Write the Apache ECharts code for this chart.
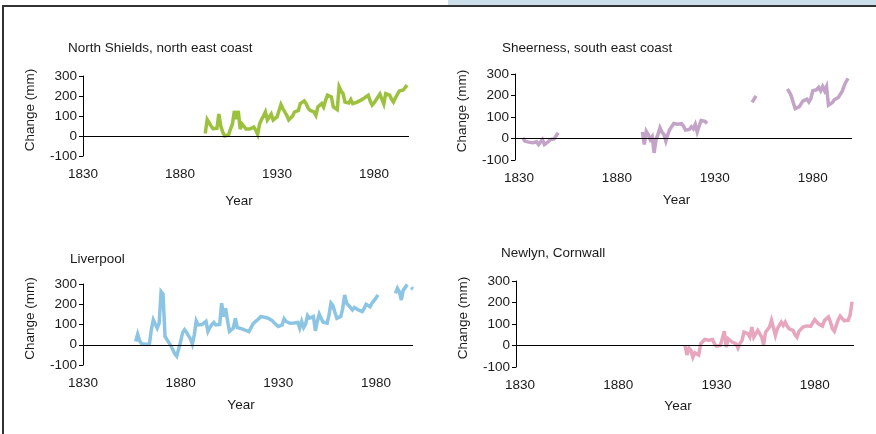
<!DOCTYPE html>
<html>
<head>
<meta charset="utf-8">
<script src="https://cdn.jsdelivr.net/npm/echarts@6/dist/echarts.min.js"></script>
<style>
html,body{margin:0;padding:0;background:#fff;}
#chart{width:876px;height:434px;}
</style>
</head>
<body>
<div id="chart"></div>
<script>
// ---- Data (change in mm, annual) ----
const yearTicks = [1830, 1880, 1930, 1980];
const yTicks = [-100, 0, 100, 200, 300];

const stationNames = ["North Shields, north east coast", "Sheerness, south east coast", "Liverpool", "Newlyn, Cornwall"];

// North Shields
const northShieldsStart = 1893;
const northShieldsValues = [12,82,78,50,37,40,38,110,50,20,0,2,5,35,60,125,85,125,35,60,70,35,38,35,40,45,30,8,60,82,100,120,80,95,110,80,87,95,103,157,137,120,103,80,87,100,120,122,128,162,165,175,162,140,128,125,120,103,145,150,162,145,178,204,200,195,145,135,132,246,225,212,170,168,165,182,162,165,168,170,178,185,190,195,204,175,154,165,175,195,210,220,160,212,208,204,185,170,190,200,225,228,230,240,254];

// Sheerness (gaps in record)
const sheernessStart1 = 1832;
const sheernessValues1 = [3,-12,-15,-17,-20,-20,-23,-15,-28,-22,-5,-28,-20,-15,-5,0,-2,5,27];
const sheernessStart2 = 1893;
const sheernessValues2 = [30,-28,34,19,-5,8,-67,-5,20,50,30,19,-12,19,42,50,70,77,66,70,69,58,39,40,42,55,45,66,30,58,84,89,80,70];
const sheernessStart3 = 1949;
const sheernessValues3 = [168,183,198];
const sheernessStart4 = 1967;
const sheernessValues4 = [230,217,198,167,139,133,147,139,175,178,183,170,186,222,222,227,238,222,242,222,242,155,160,167,180,186,191,198,220,245,265,280];

// Liverpool
const liverpoolStart1 = 1857;
const liverpoolValues1 = [16,52,20,5,-3,2,8,3,74,123,131,82,107,262,250,41,25,16,-5,-25,-45,-57,-20,16,60,74,62,45,30,3,49,118,98,107,100,95,115,66,85,100,110,98,98,100,205,139,180,120,66,70,82,131,85,82,80,79,72,69,65,62,102,112,120,128,139,138,136,132,130,128,118,107,98,90,85,98,128,115,107,106,105,107,108,110,82,115,85,102,144,131,135,139,69,115,151,130,111,108,107,148,205,193,160,131,134,140,180,246,205,195,190,172,184,178,172,168,164,180,200,205,188,205,213,230,246];
const liverpoolStart2 = 1990;
const liverpoolValues2 = [254,279,262,221,270,282,298];
const liverpoolStart3 = 1998;
const liverpoolValues3 = [282,275];

// Newlyn
const newlynStart = 1914;
const newlynValues = [0,-44,-12,-23,-55,-34,-40,-44,8,16,28,19,25,34,28,8,-3,2,0,8,66,-8,31,23,16,12,8,-12,10,23,62,70,55,39,86,39,39,70,75,40,3,62,70,86,117,122,47,78,70,109,94,109,90,78,78,70,50,39,66,59,86,88,91,86,90,97,120,112,100,97,91,117,125,133,109,78,66,94,120,137,128,115,112,117,141,203];

const colors = ["#9cc23d", "#c3a3c7", "#8cc4e3", "#e8a5be"];

function toData(segments) {
  const out = [];
  segments.forEach(function (seg, k) {
    const start = seg[0], vals = seg[1];
    vals.forEach(function (v, i) { out.push([start + i, v]); });
    if (k < segments.length - 1) out.push([start + vals.length, null]);
  });
  return out;
}

const seriesData = [
  toData([[northShieldsStart, northShieldsValues]]),
  toData([[sheernessStart1, sheernessValues1], [sheernessStart2, sheernessValues2], [sheernessStart3, sheernessValues3], [sheernessStart4, sheernessValues4]]),
  toData([[liverpoolStart1, liverpoolValues1], [liverpoolStart2, liverpoolValues2], [liverpoolStart3, liverpoolValues3]]),
  toData([[newlynStart, newlynValues]])
];

// ---- Layout ----
const FONT = "'Liberation Sans', Arial, sans-serif";
const FS = 13.5;
const TXT = "#1a1a1a";
const grids = [
  {left: 83, top: 76, width: 326, height: 80},
  {left: 515, top: 74, width: 337, height: 86},
  {left: 83, top: 284, width: 330, height: 81},
  {left: 516, top: 281, width: 338, height: 86}
];
const xRanges = [[1830, 1998], [1828, 2000], [1830, 1999], [1828, 2000]];
const titlePos = [{left: 68, top: 41}, {left: 502, top: 41}, {left: 70, top: 252}, {left: 501, top: 246}];
const yearGap = [38, 33, 33, 32];

const chart = echarts.init(document.getElementById('chart'), null, {renderer: 'canvas'});

const option = {
  animation: false,
  backgroundColor: '#ffffff',
  textStyle: {fontFamily: FONT},
  title: stationNames.map(function (n, i) {
    return {text: n, left: titlePos[i].left, top: titlePos[i].top, padding: 0,
      textStyle: {fontFamily: FONT, fontSize: FS, fontWeight: 'normal', color: TXT}};
  }),
  grid: grids.map(function (g) { return Object.assign({containLabel: false}, g); }),
  xAxis: grids.map(function (g, i) {
    return {
      type: 'value', gridIndex: i, min: xRanges[i][0], max: xRanges[i][1],
      name: 'Year', nameLocation: 'middle', nameGap: yearGap[i],
      nameTextStyle: {fontFamily: FONT, fontSize: FS, color: TXT, padding: [0, 14, 0, 0]},
      axisLine: {show: false}, axisTick: {show: false}, splitLine: {show: false},
      axisLabel: {customValues: yearTicks, fontFamily: FONT, fontSize: FS, color: TXT, margin: 11,
        formatter: function (v) { return String(v); }}
    };
  }),
  yAxis: grids.map(function (g, i) {
    return {
      type: 'value', gridIndex: i, min: yTicks[0], max: yTicks[yTicks.length - 1], interval: 100,
      name: 'Change (mm)', nameLocation: 'middle', nameGap: 46,
      nameTextStyle: {fontFamily: FONT, fontSize: FS, color: TXT, padding: [0, 0, 0, 12]},
      axisLine: {show: true, lineStyle: {color: '#000', width: 1}},
      axisTick: {show: true, length: 4, lineStyle: {color: '#000'}},
      splitLine: {show: false},
      axisLabel: {fontFamily: FONT, fontSize: FS, color: TXT, margin: 6,
        formatter: function (v) { return String(v); }}
    };
  }),
  series: seriesData.map(function (d, i) {
    return {
      type: 'line', xAxisIndex: i, yAxisIndex: i, data: d,
      showSymbol: false, connectNulls: false, silent: true,
      lineStyle: {color: colors[i], width: 3.5, join: 'miter', miterLimit: 4},
      itemStyle: {color: colors[i]},
      markLine: {
        silent: true, symbol: ['none', 'none'], label: {show: false},
        lineStyle: {color: '#000', width: 1, type: 'solid'},
        data: [{yAxis: 0}]
      }
    };
  }),
  graphic: [
    {type: 'rect', shape: {x: 448, y: 0, width: 428, height: 6}, style: {fill: '#cddfeb'}, silent: true},
    {type: 'line', shape: {x1: 2, y1: 6, x2: 876, y2: 6}, style: {stroke: '#333', lineWidth: 2}, silent: true},
    {type: 'line', shape: {x1: 3, y1: 6, x2: 3, y2: 434}, style: {stroke: '#333', lineWidth: 2}, silent: true}
  ]
};
chart.setOption(option);
</script>
</body>
</html>
